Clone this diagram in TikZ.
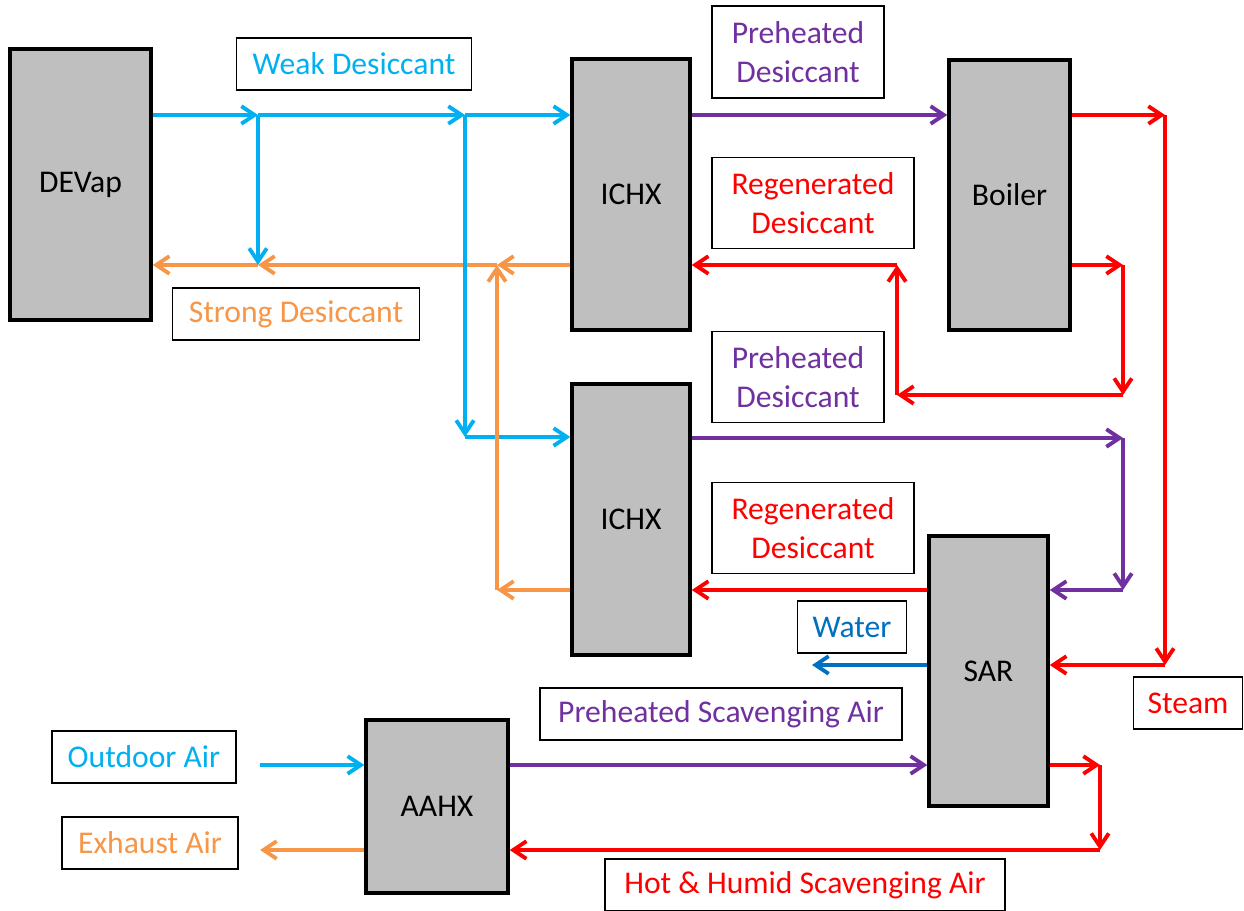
\documentclass[tikz,border=0pt]{standalone}
\usepackage{fontspec}
\setmainfont{Carlito}
\usetikzlibrary{arrows.meta}
\definecolor{weakblue}{HTML}{00B0F0}
\definecolor{strongorange}{HTML}{F79646}
\definecolor{heatpurple}{HTML}{7030A0}
\definecolor{waterblue}{HTML}{0070C0}
\definecolor{unitgray}{HTML}{BFBFBF}
\tikzset{unit node/.style={rectangle,fill=unitgray,draw,line width=2pt,inner sep=0pt,
            font=\fontsize{18}{22}\selectfont},
         tag node/.style={rectangle,fill=white,draw,line width=0.9pt,inner sep=0pt,align=center,
            minimum height=1.05cm,font=\fontsize{18}{22}\selectfont},
         flow/.style={draw,line width=2.2pt,-{Straight Barb[length=7.5pt,width=10pt]}},
            }

\begin{document}
\begin{tikzpicture}[x=0.02cm,y=-0.02cm]
    \useasboundingbox (0,0) rectangle (1244,911);
    \node[unit node,minimum width=2.82cm,minimum height=5.42cm] (devap) at (80.5,184.5) {DEVap};
    \node[unit node,minimum width=2.36cm,minimum height=5.42cm] (ichxa) at (631,194.5) {ICHX};
    \node[unit node,minimum width=2.42cm,minimum height=5.4cm] (boiler) at (1009.5,195) {Boiler};
    \node[unit node,minimum width=2.36cm,minimum height=5.42cm] (ichxb) at (631,519.5) {ICHX};
    \node[unit node,minimum width=2.38cm,minimum height=5.4cm] (sar) at (988.5,671) {SAR};
    \node[unit node,minimum width=2.84cm,minimum height=3.46cm] (aahx) at (437,806.5) {AAHX};

    \node[tag node,minimum width=4.7cm,text=weakblue] (weak) at (354,64) {Weak Desiccant};
    \node[tag node,minimum width=4.94cm,text=strongorange] (strong) at (296,314) {Strong Desiccant};
    \node[tag node,minimum width=3.44cm,minimum height=1.84cm,text=heatpurple] (preheata) at (798,52) {Preheated\\Desiccant};
    \node[tag node,minimum width=4.04cm,minimum height=1.82cm,text=red] (regena) at (813,203) {Regenerated\\Desiccant};
    \node[tag node,minimum width=3.44cm,minimum height=1.82cm,text=heatpurple] (preheatb) at (798,377) {Preheated\\Desiccant};
    \node[tag node,minimum width=4.04cm,minimum height=1.82cm,text=red] (regenb) at (813,528) {Regenerated\\Desiccant};
    \node[tag node,minimum width=2.18cm,text=waterblue] (water) at (852,627) {Water};
    \node[tag node,minimum width=2.18cm,text=red] (steam) at (1188,703) {Steam};
    \node[tag node,minimum width=7.24cm,text=heatpurple] (scavair) at (721,714) {Preheated Scavenging Air};
    \node[tag node,minimum width=3.68cm,text=weakblue] (outdoor) at (144,757) {Outdoor Air};
    \node[tag node,minimum width=3.52cm,text=strongorange] (exhaust) at (150,843) {Exhaust Air};
    \node[tag node,minimum width=8cm,text=red] (humid) at (805,885) {Hot \& Humid Scavenging Air};

    % junction points
    \coordinate (j1) at (258,115);
    \coordinate (j2) at (465,115);
    \coordinate (j3) at (258,265);
    \coordinate (j4) at (497,265);
    \coordinate (j5) at (465,437);
    \coordinate (j6) at (497,590);
    \coordinate (j7) at (1165,115);
    \coordinate (j8) at (1165,665);
    \coordinate (j9) at (1123,265);
    \coordinate (j10) at (1123,395);
    \coordinate (j11) at (897,395);
    \coordinate (j12) at (897,265);
    \coordinate (j13) at (1123,438);
    \coordinate (j14) at (1123,590);
    \coordinate (j15) at (812,665);
    \coordinate (j16) at (1100,765);
    \coordinate (j17) at (1100,850);
    \coordinate (j18) at (260,765);
    \coordinate (j19) at (260,850);

    % desiccant loop
    \draw[flow,strongorange] (ichxa.west |- j4) -- (j4);
    \draw[flow,strongorange] (j4) -- (j3);
    \draw[flow,strongorange] (j3) -- (devap.east |- j3);
    \draw[flow,strongorange] (ichxb.west |- j6) -- (j6);
    \draw[flow,weakblue] (devap.east |- j1) -- (j1);
    \draw[flow,weakblue] (j1) -- (j2);
    \draw[flow,weakblue] (j2) -- (ichxa.west |- j2);
    \draw[flow,weakblue] (j1) -- (j3);
    \draw[flow,weakblue] (j2) -- (j5);
    \draw[flow,weakblue] (j5) -- (ichxb.west |- j5);
    \draw[flow,strongorange] (j6) -- (j4);
    \draw[flow,heatpurple] (ichxa.east |- j1) -- (boiler.west |- j1);
    \draw[flow,heatpurple] (ichxb.east |- j13) -- (j13);
    \draw[flow,heatpurple] (j13) -- (j14);
    \draw[flow,heatpurple] (j14) -- (sar.east |- j14);
    \draw[flow,red] (boiler.east |- j7) -- (j7);
    \draw[flow,red] (j7) -- (j8);
    \draw[flow,red] (j8) -- (sar.east |- j8);
    \draw[flow,red] (boiler.east |- j9) -- (j9);
    \draw[flow,red] (j9) -- (j10);
    \draw[flow,red] (j10) -- (j11);
    \draw[flow,red] (j11) -- (j12);
    \draw[flow,red] (j12) -- (ichxa.east |- j12);
    \draw[flow,red] (sar.west |- j14) -- (ichxb.east |- j14);
    \draw[flow,waterblue] (sar.west |- j15) -- (j15);
    % air side
    \draw[flow,weakblue] (j18) -- (aahx.west |- j18);
    \draw[flow,strongorange] (aahx.west |- j19) -- (j19);
    \draw[flow,heatpurple] (aahx.east |- j16) -- (sar.west |- j16);
    \draw[flow,red] (sar.east |- j16) -- (j16);
    \draw[flow,red] (j16) -- (j17);
    \draw[flow,red] (j17) -- (aahx.east |- j17);

\end{tikzpicture}
\end{document}
